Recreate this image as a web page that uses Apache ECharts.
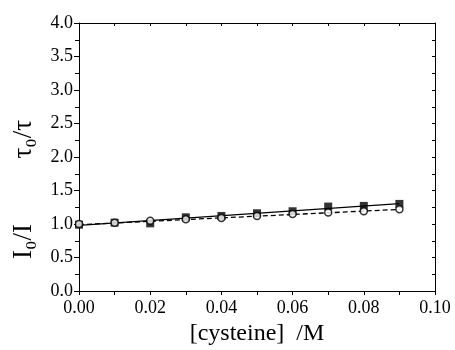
<!DOCTYPE html>
<html><head><meta charset="utf-8">
<script src="https://cdn.jsdelivr.net/npm/echarts@6/dist/echarts.min.js"></script>
<style>html,body{margin:0;padding:0;background:#fff}#c{width:455px;height:350px}</style>
</head><body><div id="c"></div>
<script>
var concentration = [0, 0.01, 0.02, 0.03, 0.04, 0.05, 0.06, 0.07, 0.08, 0.09];
var intensityRatio = [0.99, 1.02, 1.01, 1.10, 1.12, 1.16, 1.19, 1.26, 1.27, 1.30];
var lifetimeRatio = [1.00, 1.02, 1.05, 1.07, 1.09, 1.12, 1.15, 1.17, 1.19, 1.22];
var intensityFit = [[0, 0.978], [0.09, 1.305]];
var lifetimeFit = [[0, 0.99], [0.09, 1.218]];
var xTickLabels = ['0.00', '0.02', '0.04', '0.06', '0.08', '0.10'];
var yTickLabels = ['0.0', '0.5', '1.0', '1.5', '2.0', '2.5', '3.0', '3.5', '4.0'];

function pairs(xs, ys) { return xs.map(function (x, i) { return [x, ys[i]]; }); }

var FONT = 'Liberation Serif';
var chart = echarts.init(document.getElementById('c'), null, { renderer: 'canvas' });
var grid = { left: 79, right: 20, top: 23, bottom: 59, containLabel: false, outerBoundsMode: 'none' };
chart.setOption({
  animation: false,
  backgroundColor: '#fff',
  grid: grid,
  xAxis: [{
    type: 'value', min: 0, max: 0.1, interval: 0.02, position: 'bottom',
    axisLine: { show: true, onZero: false, lineStyle: { color: '#000', width: 1 } },
    axisTick: { show: true, inside: false, length: 4, lineStyle: { color: '#000' } },
    minorTick: { show: true, splitNumber: 2, length: 4, lineStyle: { color: '#000' } },
    splitLine: { show: false },
    axisLabel: { fontFamily: FONT, fontSize: 18, color: '#000', margin: 8,
      formatter: function (v) { return xTickLabels[Math.round(v / 0.02)]; } },
    name: '[cysteine]  /M', nameLocation: 'middle', nameGap: 31,
    nameTextStyle: { fontFamily: FONT, fontSize: 24, color: '#000' }
  }, {
    type: 'value', min: 0, max: 0.1, interval: 0.02, position: 'top',
    axisLine: { show: true, onZero: false, lineStyle: { color: '#000', width: 1 } },
    axisTick: { show: true, inside: true, length: 3, lineStyle: { color: '#000' } },
    minorTick: { show: true, splitNumber: 2, length: 3, lineStyle: { color: '#000' } },
    splitLine: { show: false }, axisLabel: { show: false }
  }],
  yAxis: [{
    type: 'value', min: 0, max: 4, interval: 0.5, position: 'left',
    axisLine: { show: true, onZero: false, lineStyle: { color: '#000', width: 1 } },
    axisTick: { show: true, inside: false, length: 5, lineStyle: { color: '#000' } },
    minorTick: { show: true, splitNumber: 2, length: 4, lineStyle: { color: '#000' } },
    splitLine: { show: false },
    axisLabel: { fontFamily: FONT, fontSize: 18, color: '#000', margin: 6,
      formatter: function (v) { return yTickLabels[Math.round(v / 0.5)]; } }
  }, {
    type: 'value', min: 0, max: 4, interval: 0.5, position: 'right',
    axisLine: { show: true, onZero: false, lineStyle: { color: '#000', width: 1 } },
    axisTick: { show: true, inside: true, length: 3, lineStyle: { color: '#000' } },
    minorTick: { show: true, splitNumber: 2, length: 3, lineStyle: { color: '#000' } },
    splitLine: { show: false }, axisLabel: { show: false }
  }],
  graphic: [{
    type: 'text', left: 10, top: 224, rotation: Math.PI / 2,
    style: { text: 'I\u2080/I', fontFamily: FONT, fontSize: 27, fill: '#000' }
  }, {
    type: 'text', left: 10, top: 120, rotation: Math.PI / 2,
    style: { text: '\u03C4\u2080/\u03C4', fontFamily: FONT, fontSize: 27, fill: '#000' }
  }],
  series: [{
    type: 'line', data: intensityFit, symbol: 'none', silent: true,
    lineStyle: { color: '#000', width: 1.3, type: 'solid' }, z: 2
  }, {
    type: 'line', data: lifetimeFit, symbol: 'none', silent: true,
    lineStyle: { color: '#000', width: 1.3, type: [5, 3] }, z: 2
  }, {
    type: 'scatter', data: pairs(concentration, intensityRatio), symbol: 'rect', symbolSize: 8,
    itemStyle: { color: '#000' }, z: 3
  }, {
    type: 'scatter', data: pairs(concentration, lifetimeRatio), symbol: 'circle', symbolSize: 7,
    itemStyle: { color: '#fff', borderColor: '#000', borderWidth: 1.5 }, z: 4
  }]
});
</script></body></html>
